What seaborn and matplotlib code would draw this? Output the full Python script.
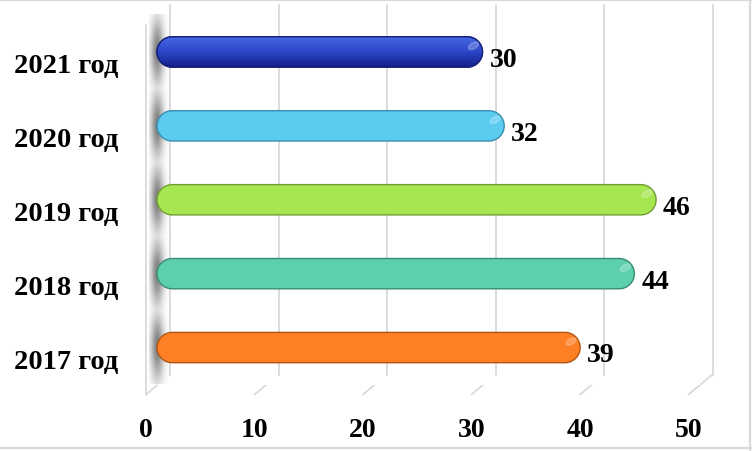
import numpy as np
import pandas as pd
import matplotlib
matplotlib.use('Agg')
import matplotlib.pyplot as plt
import matplotlib.transforms as mtransforms
from matplotlib.patches import PathPatch, ConnectionPatch, Ellipse
from matplotlib.path import Path
from matplotlib.lines import Line2D
import seaborn as sns

# данные
years = ['2021 год', '2020 год', '2019 год', '2018 год', '2017 год']
values = [30, 32, 46, 44, 39]
colors = ['#2C47C8', '#5CCBF0', '#A6E650', '#5CCFAE', '#FF8024']
edges = ['#14207A', '#3A8DB0', '#6E9E30', '#3A8C74', '#B05516']
xticks = [0, 10, 20, 30, 40, 50]

sns.set_theme(style='white')
plt.rcParams['font.family'] = ['Liberation Serif', 'DejaVu Serif']

fig = plt.figure(figsize=(7.52, 4.52), dpi=100)
ax = fig.add_axes([157 / 752, 66.5 / 452, 542.5 / 752, 369.5 / 452])

df = pd.DataFrame({'year': years, 'value': values})
sns.barplot(data=df, x='value', y='year', hue='year', palette=colors,
            legend=False, width=0.41, orient='h', ax=ax)

ax.set_xlim(0, 50)
ax.set_ylim(4.5, -0.5)
for s in ax.spines.values():
    s.set_visible(False)
ax.set_xticks([])
ax.set_yticks([])
ax.set_xlabel('')
ax.set_ylabel('')

# тень на левой стенке
xs = np.linspace(-0.7, 1.2, 60)
ys = np.linspace(-0.5, 4.5, 400)
X, Y = np.meshgrid(xs, ys)
shade = np.zeros_like(X)
for i in range(len(years)):
    shade = np.maximum(shade, np.exp(-((Y - i) ** 2) / (2 * 0.3 ** 2)))
shade *= np.exp(-((X - 0.05) ** 2) / (2 * 0.42 ** 2))
rgba = np.zeros(X.shape + (4,))
rgba[..., :3] = 0.4
rgba[..., 3] = 0.85 * shade
im = ax.imshow(rgba, extent=(-0.7, 1.2, 4.5, -0.5), aspect='auto',
               origin='upper', zorder=1)
im.set_clip_on(False)
ax.set_xlim(0, 50)
ax.set_ylim(4.5, -0.5)


def stadium(left, bottom, right, top):
    r = (top - bottom) / 2
    cy = bottom + r
    arc_r = Path.arc(-90, 90)
    arc_l = Path.arc(90, 270)
    vr = arc_r.vertices * r + [right - r, cy]
    vl = arc_l.vertices * r + [left + r, cy]
    codes_l = arc_l.codes.copy()
    codes_l[0] = Path.LINETO
    verts = np.concatenate([vr, vl, vr[:1]])
    codes = np.concatenate([arc_r.codes, codes_l, [Path.CLOSEPOLY]])
    return Path(verts, codes)


# скругленные бары
ident = mtransforms.IdentityTransform()
grad = np.linspace(0, 1, 64).reshape(-1, 1)
for bar in list(ax.patches):
    x0, y0 = bar.get_x(), bar.get_y()
    w, h = bar.get_width(), bar.get_height()
    i = int(round(y0 + h / 2))
    bar.set_visible(False)
    (px0, py0), (px1, py1) = ax.transData.transform([(x0, y0), (x0 + w, y0 + h)])
    left, right = min(px0, px1), max(px0, px1)
    bottom, top = min(py0, py1), max(py0, py1)
    path = stadium(left, bottom, right, top)
    pp = PathPatch(path, transform=ident, fc=colors[i], ec=edges[i], lw=1.0,
                   zorder=3, clip_on=False)
    ax.add_patch(pp)
    if i == 0:
        cmap = matplotlib.colors.LinearSegmentedColormap.from_list(
            'b', ['#4769E6', '#2C47C8', '#13208A'])
        gi = ax.imshow(grad, cmap=cmap, extent=(x0, x0 + w, y0 + h, y0),
                       aspect='auto', zorder=3.5)
        gi.set_clip_path(path, ident)
        ax.add_patch(PathPatch(path, transform=ident, fc='none', ec=edges[i],
                               lw=1.0, zorder=3.6, clip_on=False))
    r = (top - bottom) / 2
    hl = Ellipse((right - 0.6 * r, top - 0.6 * r), 11, 6, angle=30,
                 fc='white', alpha=0.22, zorder=4, transform=ident)
    hl.set_clip_on(False)
    ax.add_patch(hl)

ax.set_xlim(0, 50)
ax.set_ylim(4.5, -0.5)

# сетка псевдо-3D
grid_c = '#D9D9D9'
back = ax.get_xaxis_transform() + mtransforms.ScaledTranslation(0.13, 0.10, fig.dpi_scale_trans)
front = ax.get_xaxis_transform() + mtransforms.ScaledTranslation(-0.11, -0.10, fig.dpi_scale_trans)
lab_tr = ax.get_xaxis_transform() + mtransforms.ScaledTranslation(-0.11, -0.515, fig.dpi_scale_trans)
for t in xticks:
    ax.add_line(Line2D([t, t], [0, 1], transform=back, color=grid_c, lw=1.3,
                       zorder=0, clip_on=False))
    con = ConnectionPatch(xyA=(t, 0), coordsA=back, xyB=(t, 0), coordsB=front,
                          color=grid_c, lw=1.3, zorder=0)
    fig.add_artist(con)
    ax.text(t, 0, str(t), transform=lab_tr, ha='center', va='baseline',
            fontsize=20, fontweight='bold', color='black')
ax.add_line(Line2D([0, 0], [0, 1], transform=front, color=grid_c, lw=1.3,
                   zorder=0, clip_on=False))

# подписи категорий
ylab_tr = mtransforms.blended_transform_factory(ax.transAxes, ax.transData) + \
    mtransforms.ScaledTranslation(-0.39, -0.20, fig.dpi_scale_trans)
for i, y in enumerate(years):
    ax.text(0, i, y, transform=ylab_tr, ha='right', va='baseline',
            fontsize=20.5, fontweight='bold', color='black')

# подписи значений
for i, v in enumerate(values):
    ax.annotate(str(v), xy=(v, i), xytext=(5, -10), textcoords='offset points',
                ha='left', va='baseline', fontsize=20, fontweight='bold',
                color='black', annotation_clip=False)

# рамка
for xs_, ys_ in [([0, 1], [0.998, 0.998]), ([0.998, 0.998], [0, 1]), ([0, 1], [0.006, 0.006])]:
    fig.add_artist(Line2D(xs_, ys_, transform=fig.transFigure, color=grid_c, lw=1.6))

fig.savefig('out.png', dpi=100)
